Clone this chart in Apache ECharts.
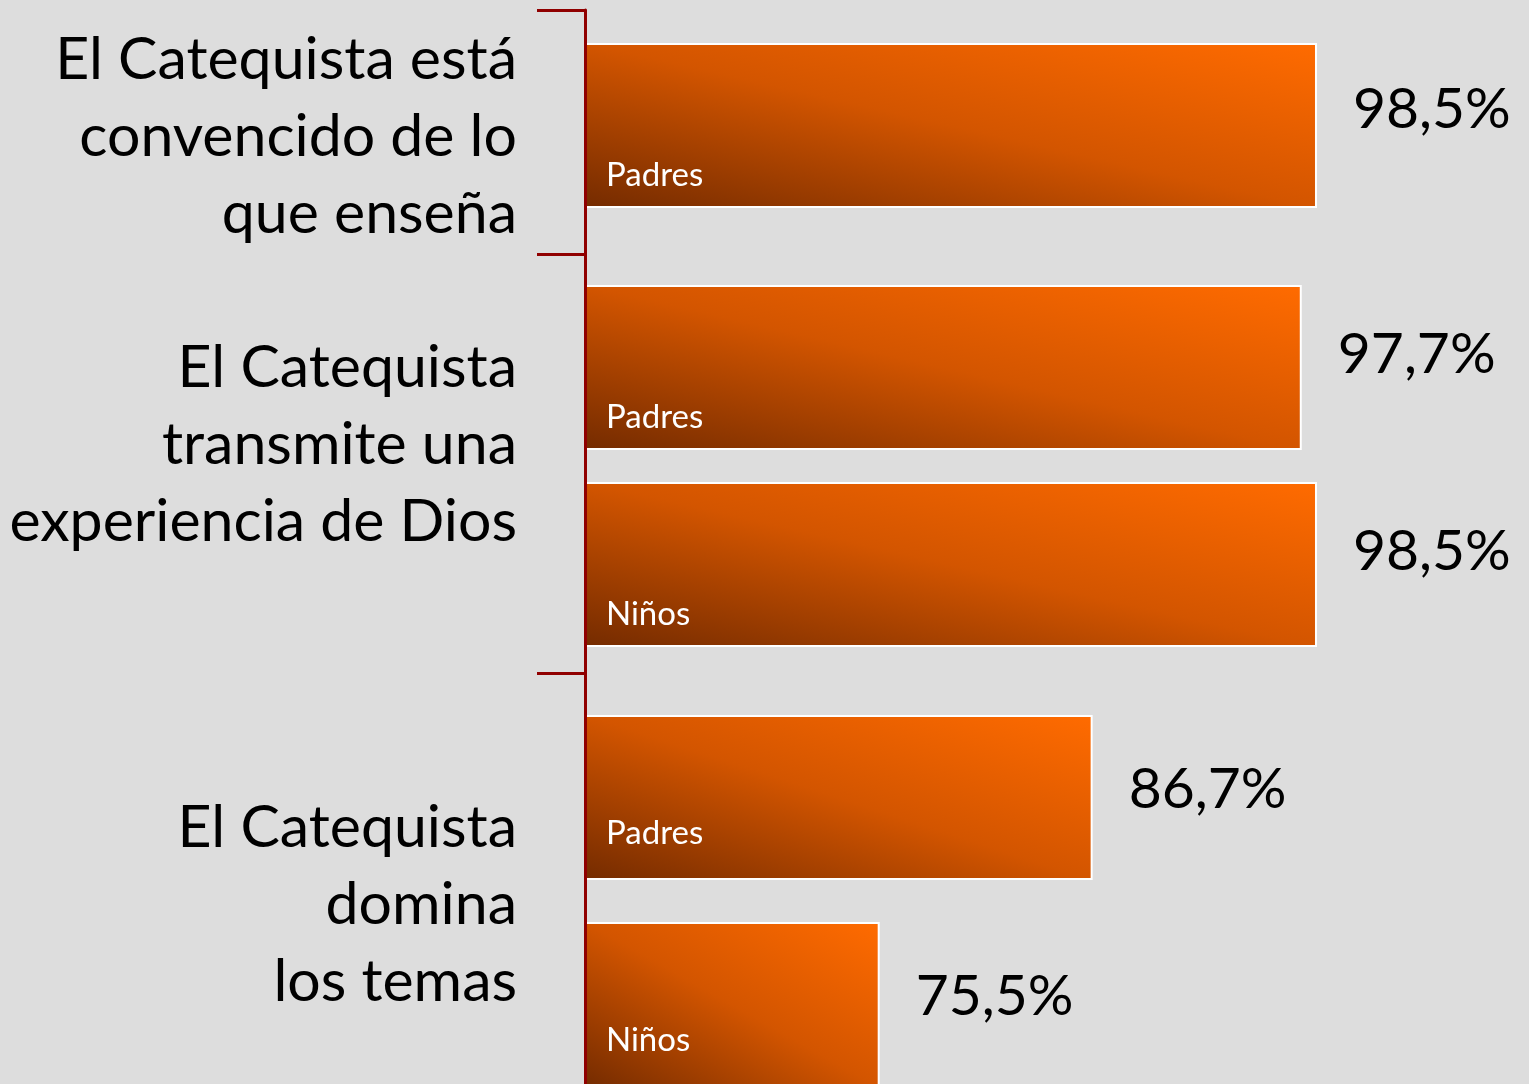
<!DOCTYPE html>
<html>
	<head>
		<meta charset="utf-8" />
		<title>El Catequista</title>
		<script src="https://cdn.jsdelivr.net/npm/echarts@6/dist/echarts.min.js"></script>
		<style>
			html, body { margin: 0; padding: 0; background: #dddddd; height: 1084px; overflow: hidden; }
			#main { width: 1529px; height: 1140px; }
		</style>
	</head>
	<body>
		<div id="main"></div>
	</body>
	<script type="text/javascript">
		// datos
		var groupLabels = [
			'El Catequista está\nconvencido de lo\nque enseña',
			'El Catequista\ntransmite una\nexperiencia de Dios',
			'El Catequista\ndomina\nlos temas'
		];
		var groupRespondents = [['Padres'], ['Padres', 'Niños'], ['Padres', 'Niños']];
		var groupValues = [[98.5], [97.7, 98.5], [86.7, 75.5]];

		// posiciones de cada bloque (px)
		var tickGrids = [{top: 10, height: 244}, {top: 254, height: 419}, {top: 673, height: 460}];
		var textCenters = [137, 445, 905];
		var barGrids = [{top: 10, height: 231}, {top: 269, height: 394}, {top: 694, height: 414}];
		var valueShift = [-16, -13, -8];
		var nameShift = [0, 0, -14];

		var font = 'Lato, "Open Sans", sans-serif';
		var red = '#900000';
		var plotLeft = 585, plotWidth = 760.5, xMin = 60, xMax = 100, barH = 165;
		var pxPerUnit = plotWidth / (xMax - xMin);

		// degradado en diagonal de la caja (oscuro abajo-izq, naranja arriba-dcha)
		function barGradient(v) {
			var w = (v - xMin) * pxPerUnit, h = barH;
			var k = w * h / (w * w + h * h);
			var dx = k * h / w, dy = k * w / h;
			return new echarts.graphic.LinearGradient(0.5 - dx, 0.5 + dy, 0.5 + dx, 0.5 - dy, [
				{offset: 0, color: '#742b00'},
				{offset: 0.5, color: '#d35500'},
				{offset: 1, color: '#ff6b00'}
			]);
		}

		var grid = [], xAxis = [], yAxis = [], series = [];
		var n = 0;

		// eje con marcas (línea roja)
		for (var i = 0; i < 3; i++) {
			grid.push({left: plotLeft, width: plotWidth, top: tickGrids[i].top, height: tickGrids[i].height});
			xAxis.push({type: 'value', gridIndex: n, min: xMin, max: xMax, show: false});
			yAxis.push({
				type: 'category',
				gridIndex: n,
				data: [''],
				z: 10,
				axisLine: {show: true, lineStyle: {color: red, width: 3}},
				axisTick: {show: true, length: 48, lineStyle: {color: red, width: 3}},
				axisLabel: {show: false},
				splitLine: {show: false}
			});
			n++;
		}

		// textos de cada grupo
		for (var t = 0; t < 3; t++) {
			grid.push({left: plotLeft, width: plotWidth, top: textCenters[t] - 100, height: 200});
			xAxis.push({type: 'value', gridIndex: n, min: xMin, max: xMax, show: false});
			yAxis.push({
				type: 'category',
				gridIndex: n,
				data: [groupLabels[t]],
				axisLine: {show: false},
				axisTick: {show: false},
				splitLine: {show: false},
				axisLabel: {
					color: '#000',
					fontFamily: font,
					fontSize: 59,
					lineHeight: 77,
					align: 'right',
					margin: 68
				}
			});
			n++;
		}

		// barras
		for (var j = 0; j < 3; j++) {
			grid.push({left: plotLeft, width: plotWidth, top: barGrids[j].top, height: barGrids[j].height});
			xAxis.push({type: 'value', gridIndex: n, min: xMin, max: xMax, show: false});
			yAxis.push({type: 'category', gridIndex: n, data: groupRespondents[j], inverse: true, show: false});

			series.push({
				type: 'bar',
				xAxisIndex: n,
				yAxisIndex: n,
				data: groupValues[j],
				barWidth: barH,
				barGap: '-100%',
				itemStyle: {
					color: function (p) { return barGradient(p.value); },
					borderColor: '#ffffff',
					borderWidth: 2
				},
				label: {
					show: true,
					position: 'right',
					distance: 36,
					offset: [0, valueShift[j]],
					color: '#000',
					fontFamily: font,
					fontSize: 57,
					formatter: function (p) {
						return p.value.toFixed(1).replace('.', ',') + '%';
					}
				},
				silent: true
			});
			series.push({
				type: 'bar',
				xAxisIndex: n,
				yAxisIndex: n,
				data: groupValues[j],
				barWidth: barH,
				barGap: '-100%',
				itemStyle: {color: 'rgba(0,0,0,0)'},
				label: {
					show: true,
					position: 'insideBottomLeft',
					distance: 16,
					offset: [5, nameShift[j]],
					color: '#ffffff',
					fontFamily: font,
					fontSize: 33,
					formatter: function (p) {
						return p.name;
					}
				},
				silent: true
			});
			n++;
		}

		var myCharts = echarts.init(document.getElementById('main'));
		myCharts.setOption({
			backgroundColor: '#dddddd',
			animation: false,
			grid: grid,
			xAxis: xAxis,
			yAxis: yAxis,
			series: series
		});
	</script>
</html>
